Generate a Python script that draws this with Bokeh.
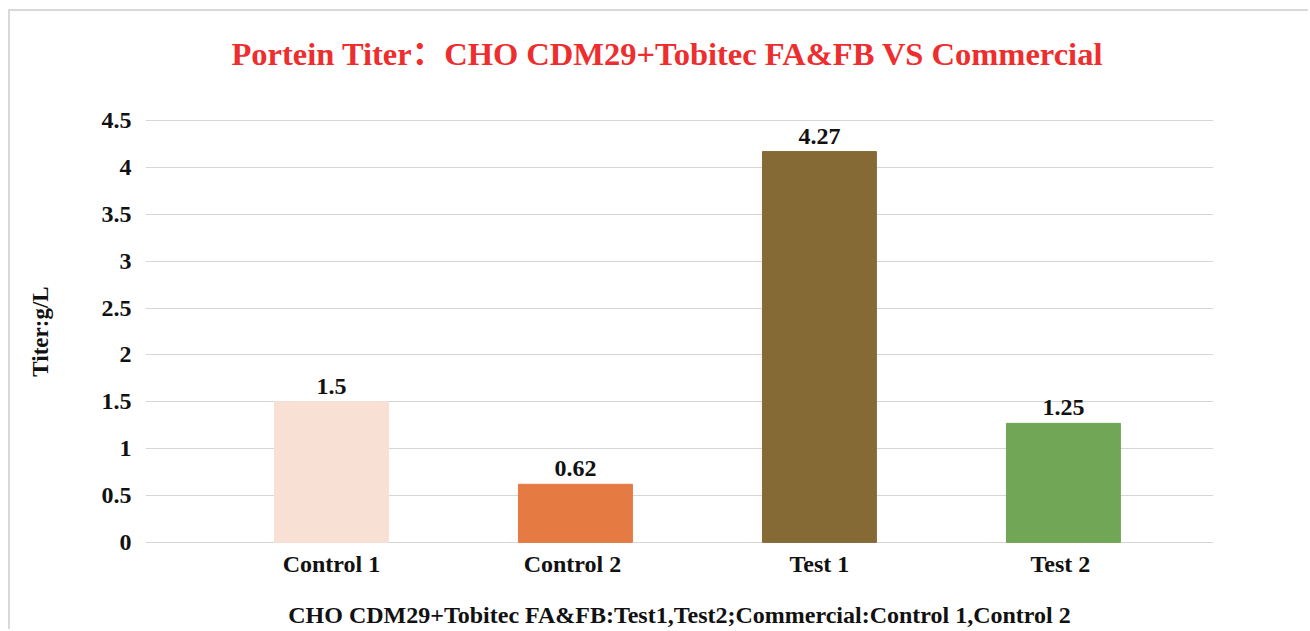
from bokeh.plotting import figure
from bokeh.models import Range1d, FixedTicker, ColumnDataSource, LabelSet
from bokeh.embed import file_html
from bokeh.resources import INLINE

title_text = "Portein Titer：CHO CDM29+Tobitec FA&FB VS Commercial"
categories = ["Control 1", "Control  2", "Test 1", "Test  2"]
titer = [1.5, 0.62, 4.17, 1.27]
bar_labels = ["1.5", "0.62", "4.27", "1.25"]
colors = ["#F8E0D4", "#E57A43", "#866A36", "#71A656"]
y_ticks = [0, 0.5, 1, 1.5, 2, 2.5, 3, 3.5, 4, 4.5]
y_tick_labels = ["0", "0.5", "1", "1.5", "2", "2.5", "3", "3.5", "4", "4.5"]

FONT = "Liberation Serif"
TITLE_FONT = "'Liberation Serif', 'Noto Sans CJK SC'"
xs = list(range(len(categories)))

src = ColumnDataSource(dict(x=xs, top=titer, label=bar_labels, color=colors))

p = figure(width=1300, height=620, output_backend="svg", toolbar_location=None,
           x_range=Range1d(-0.762, 3.615), y_range=Range1d(-0.012, 4.512),
           min_border_left=135, min_border_right=97, min_border_top=108, min_border_bottom=88,
           title=title_text)
p.styles = {"margin-left": "8px", "margin-top": "9px",
            "border-left": "2px solid #D9D9D9", "border-top": "2px solid #D9D9D9"}
p.outline_line_color = None

p.title.text_font = TITLE_FONT
p.title.text_font_size = "32.5px"
p.title.text_font_style = "bold"
p.title.text_color = "#EE2E2E"
p.title.align = "left"
p.title.offset = 86
p.title.padding = dict(left=0, right=0, top=0, bottom=29)
p.title.standoff = 38

p.vbar(x="x", top="top", width=0.467, bottom=0, color="color", source=src)
labels = LabelSet(x="x", y="top", text="label", source=src, text_font=FONT,
                  text_font_size="24px", text_font_style="bold", text_color="#111111",
                  text_align="center", text_baseline="alphabetic", y_offset=8)
p.add_layout(labels)

p.xgrid.grid_line_color = None
p.ygrid.grid_line_color = "#D6D6D6"
p.ygrid.grid_line_width = 1
p.ygrid.ticker = FixedTicker(ticks=y_ticks)

p.yaxis.ticker = FixedTicker(ticks=y_ticks)
p.yaxis.major_label_overrides = {t: l for t, l in zip(y_ticks, y_tick_labels)}
p.xaxis.ticker = FixedTicker(ticks=xs)
p.xaxis.major_label_overrides = {i: c for i, c in zip(xs, categories)}

for ax in (p.xaxis, p.yaxis):
    ax.axis_line_color = None
    ax.major_tick_line_color = None
    ax.minor_tick_line_color = None
    ax.major_tick_out = 0
    ax.major_tick_in = 0
    ax.minor_tick_out = 0
    ax.major_label_text_font = FONT
    ax.major_label_text_font_size = "24px"
    ax.major_label_text_font_style = "bold"
    ax.major_label_text_color = "#111111"
    ax.axis_label_text_font = FONT
    ax.axis_label_text_font_style = "bold"
    ax.axis_label_text_color = "#111111"

p.yaxis.axis_label = "Titer:g/L"
p.yaxis.axis_label_text_font_size = "23px"
p.yaxis.major_label_standoff = 14
p.yaxis.axis_label_standoff = 46

p.xaxis.axis_label = "CHO CDM29+Tobitec FA&FB:Test1,Test2;Commercial:Control 1,Control 2"
p.xaxis.axis_label_text_font_size = "24px"
p.xaxis.major_label_standoff = 7
p.xaxis.axis_label_standoff = 22

open("out.html", "w").write(file_html(p, INLINE))
